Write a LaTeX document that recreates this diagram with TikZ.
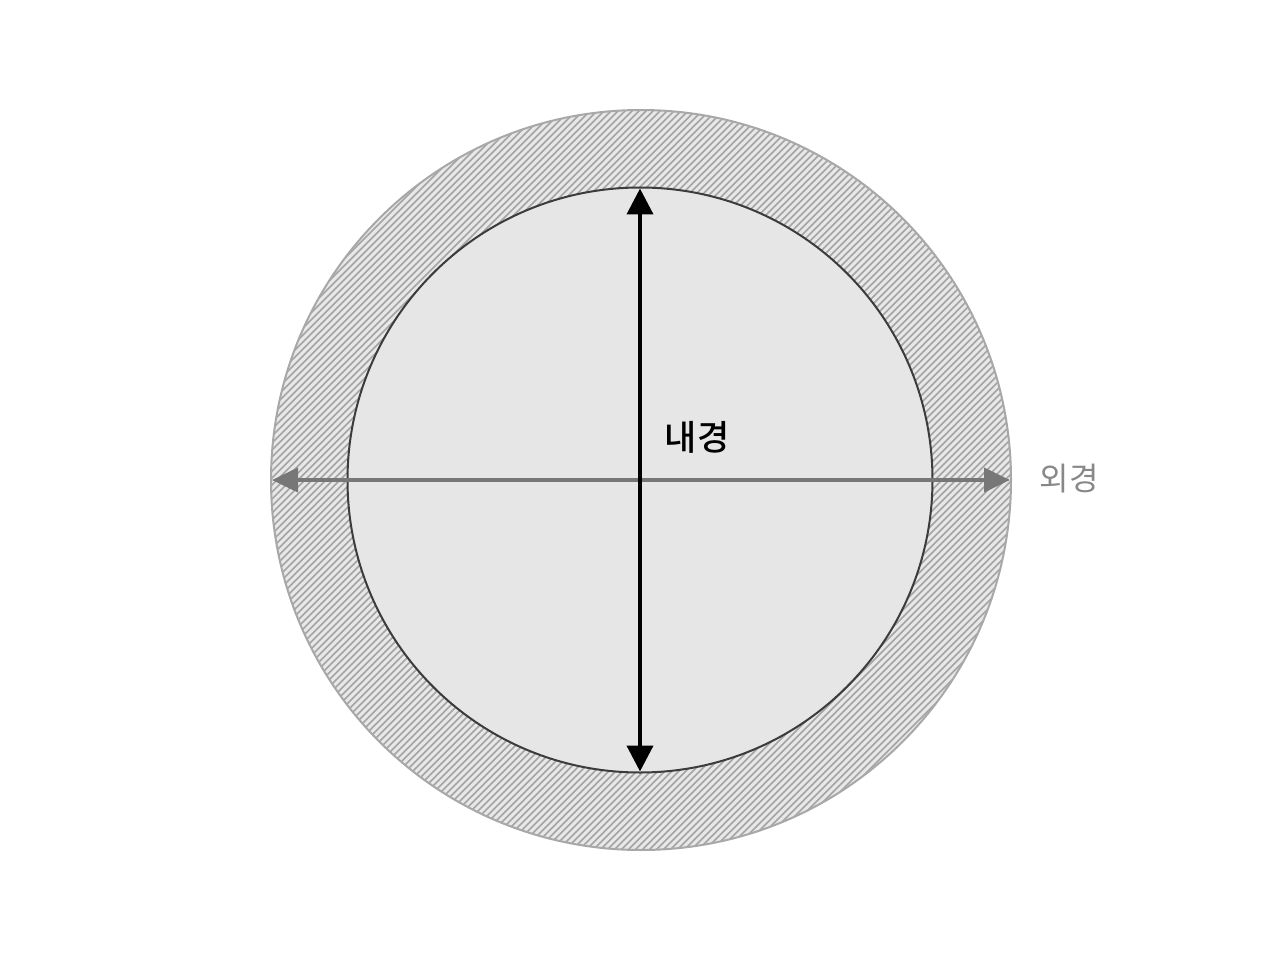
\documentclass[tikz,border=0pt]{standalone}
\usepackage{fontspec}
\newfontfamily\kr{Noto Sans CJK KR}
\newfontfamily\krb{Noto Sans CJK KR Medium}
\usetikzlibrary{arrows.meta}
\definecolor{ringfill}{HTML}{E8E8E8}
\definecolor{hatch}{HTML}{A4A4A4}
\definecolor{ringline}{HTML}{A8A8A8}
\definecolor{innerfill}{HTML}{E6E6E6}
\definecolor{innerline}{HTML}{3C3C3C}
\definecolor{odarrow}{HTML}{777777}
\definecolor{odtext}{HTML}{888888}
\tikzset{
  ring/.style={circle, draw=ringline, line width=2pt, fill=ringfill, minimum size=740pt, inner sep=0pt, outer sep=0pt,
    path picture={
      \foreach \i in {-1197,-1190,...,1200}{
        \draw[hatch, line width=1.6pt] ([shift={(\i pt,0pt)}]path picture bounding box.center) ++(-420pt,-420pt) -- ++(840pt,840pt);
      }
    }},
  core/.style={circle, draw=innerline, line width=2pt, fill=innerfill, minimum size=585pt, inner sep=0pt, outer sep=0pt},
  odarr/.style={odarrow, line width=4pt, {Triangle[length=26pt,width=24pt]}-{Triangle[length=26pt,width=24pt]}},
  idarr/.style={black, line width=4pt, {Triangle[length=26pt,width=26pt]}-{Triangle[length=26pt,width=26pt]}},
}
\begin{document}
\begin{tikzpicture}
\useasboundingbox (0pt,0pt) rectangle (1280pt,-960pt);
\node[ring] (outer) at (641pt,-480pt) {};
\node[core] (inner) at (640pt,-480pt) {};
\draw[odarr] ([xshift=1pt]outer.west) -- ([xshift=-1pt]outer.east);
\draw[idarr] ([yshift=-1pt]inner.north) -- ([yshift=1pt]inner.south);
\node[font=\krb\fontsize{35}{40}\selectfont, inner sep=0pt] (id) at (697pt,-437pt) {내경};
\node[font=\kr\fontsize{32}{38}\selectfont, text=odtext, inner sep=0pt] (od) at (1069pt,-479pt) {외경};
\end{tikzpicture}
\end{document}
